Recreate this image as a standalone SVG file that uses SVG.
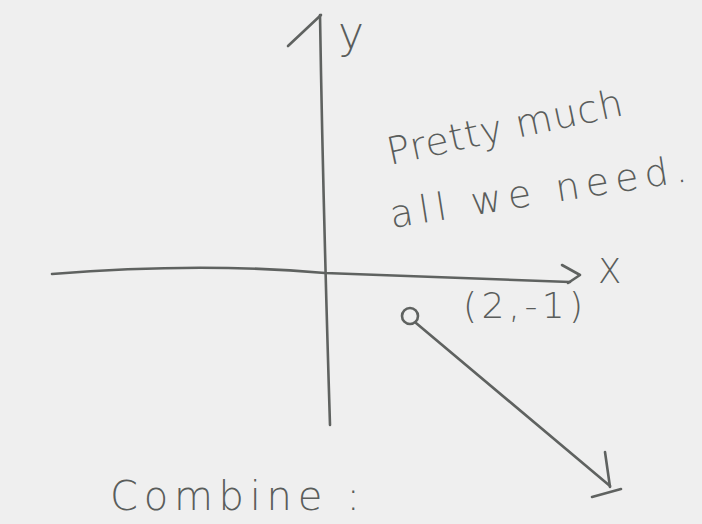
<svg xmlns="http://www.w3.org/2000/svg" width="702" height="524" viewBox="0 0 702 524">
<style>
.ink{fill:none;stroke:#5f6260;stroke-width:2.6;stroke-linecap:round;stroke-linejoin:round}
.hand{font-family:"DejaVu Sans","Liberation Sans",sans-serif;font-weight:300;fill:#5a5d5b}
</style>
<rect width="702" height="524" fill="#efefef"/>
<g id="axes">
<path class="ink" d="M52,274 Q200,262 325,273 Q450,278 570,282"/>
<path class="ink" d="M562,265 L580,275 L568,283"/>
<path class="ink" d="M320,15 Q323,200 330,425"/>
<path class="ink" d="M288,46 L321,15"/>
<text class="hand" x="598" y="283" font-size="34">X</text>
<text class="hand" x="338" y="48" font-size="44">y</text>
</g>
<g id="point">
<circle class="ink" cx="410" cy="316" r="8"/>
<text class="hand" x="463" y="318" font-size="36" textLength="120" lengthAdjust="spacing">(2,-1)</text>
</g>
<g id="connectors">
<path class="ink" d="M416,323 L610,486"/>
<path class="ink" d="M605,452 L610,487"/>
<path class="ink" d="M592,497 L621,489"/>
</g>
<g id="note">
<text class="hand" font-size="38" transform="translate(390,165) rotate(-12)" textLength="240" lengthAdjust="spacing">Pretty much</text>
<text class="hand" font-size="38" transform="translate(392,228) rotate(-9)" textLength="300" lengthAdjust="spacing">all we need.</text>
</g>
<g id="combine">
<text class="hand" x="110" y="510" font-size="40" textLength="250" lengthAdjust="spacing">Combine :</text>
</g>
</svg>
